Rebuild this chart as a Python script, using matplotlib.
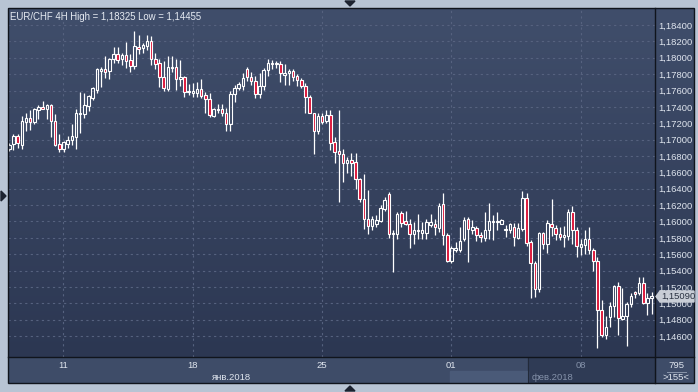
import matplotlib
matplotlib.use('Agg')
import matplotlib.pyplot as plt
import numpy as np
from matplotlib.patches import Rectangle, Polygon
from matplotlib.colors import LinearSegmentedColormap
from matplotlib.ticker import FuncFormatter

# EUR/CHF 4H candles
opens = [1.1688, 1.1695, 1.1704, 1.1694, 1.1721, 1.1727, 1.1721, 1.1736, 1.1740, 1.1737,
         1.1742, 1.1723, 1.1695, 1.1689, 1.1695, 1.1699, 1.1703, 1.1731, 1.1731, 1.1741,
         1.1751, 1.1761, 1.1784, 1.1786, 1.1784, 1.1799, 1.1804, 1.1798, 1.1803, 1.1797,
         1.1790, 1.1813, 1.1812, 1.1814, 1.1820, 1.1798, 1.1793, 1.1777, 1.1762, 1.1787,
         1.1789, 1.1774, 1.1776, 1.1758, 1.1757, 1.1757, 1.1762, 1.1754, 1.1750, 1.1729,
         1.1736, 1.1737, 1.1733, 1.1719, 1.1756, 1.1763, 1.1765, 1.1786, 1.1777, 1.1771,
         1.1756, 1.1766, 1.1785, 1.1794, 1.1792, 1.1792, 1.1779, 1.1781, 1.1784, 1.1778,
         1.1773, 1.1766, 1.1752, 1.1733, 1.1710, 1.1729, 1.1723, 1.1730, 1.1697, 1.1686,
         1.1683, 1.1671, 1.1675, 1.1673, 1.1652, 1.1628, 1.1603, 1.1595, 1.1597, 1.1601,
         1.1615, 1.1634, 1.1585, 1.1585, 1.1610, 1.1600, 1.1597, 1.1585, 1.1588, 1.1586,
         1.1586, 1.1596, 1.1597, 1.1592, 1.1621, 1.1583, 1.1552, 1.1565, 1.1565, 1.1578,
         1.1603, 1.1590, 1.1592, 1.1583, 1.1580, 1.1589, 1.1599, 1.1599, 1.1597, 1.1590,
         1.1590, 1.1593, 1.1580, 1.1591, 1.1629, 1.1575, 1.1549, 1.1518, 1.1586, 1.1572,
         1.1597, 1.1592, 1.1585, 1.1581, 1.1582, 1.1611, 1.1589, 1.1569, 1.1571, 1.1578,
         1.1565, 1.1552, 1.1492, 1.1461, 1.1483, 1.1497, 1.1521, 1.1481, 1.1484, 1.1499,
         1.1514, 1.1512, 1.1525, 1.1500, 1.1507]
highs = [1.1696, 1.1707, 1.1707, 1.1729, 1.1733, 1.1736, 1.1739, 1.1742, 1.1747, 1.1744,
         1.1744, 1.1731, 1.1707, 1.1698, 1.1704, 1.1719, 1.1737, 1.1758, 1.1757, 1.1755,
         1.1764, 1.1787, 1.1789, 1.1802, 1.1800, 1.1813, 1.1813, 1.1806, 1.1819, 1.1804,
         1.18325, 1.1828, 1.1818, 1.1828, 1.1827, 1.1806, 1.1799, 1.1796, 1.1802, 1.1802,
         1.1799, 1.1797, 1.1778, 1.1768, 1.1769, 1.1770, 1.1774, 1.1758, 1.1757, 1.1739,
         1.1743, 1.1743, 1.1739, 1.1759, 1.1767, 1.1770, 1.1781, 1.1789, 1.1782, 1.1778,
         1.1781, 1.1788, 1.1798, 1.1797, 1.1796, 1.1796, 1.1792, 1.1786, 1.1786, 1.1780,
         1.1775, 1.1769, 1.1754, 1.1733, 1.1732, 1.1733, 1.1736, 1.1736, 1.1703, 1.1736,
         1.1689, 1.1679, 1.1684, 1.1684, 1.1653, 1.1658, 1.1638, 1.1607, 1.1608, 1.1620,
         1.1630, 1.1636, 1.1590, 1.1612, 1.1613, 1.1613, 1.1603, 1.1599, 1.1609, 1.1599,
         1.1603, 1.1609, 1.1603, 1.1623, 1.1635, 1.1586, 1.1570, 1.1575, 1.1593, 1.1606,
         1.1606, 1.1602, 1.1594, 1.1587, 1.1611, 1.1622, 1.1608, 1.1612, 1.1603, 1.1596,
         1.1598, 1.1598, 1.1598, 1.1637, 1.1635, 1.1577, 1.1552, 1.1587, 1.1587, 1.1602,
         1.1627, 1.1596, 1.1593, 1.1595, 1.1615, 1.1619, 1.1593, 1.1579, 1.1590, 1.1593,
         1.1568, 1.1557, 1.1504, 1.1484, 1.1501, 1.1522, 1.1526, 1.1519, 1.1501, 1.1512,
         1.1515, 1.1532, 1.1532, 1.1512, 1.1514]
lows = [1.1686, 1.1687, 1.1690, 1.1688, 1.1710, 1.1712, 1.1719, 1.1725, 1.1737, 1.1725,
        1.1703, 1.1692, 1.1685, 1.1685, 1.1690, 1.1694, 1.1688, 1.1708, 1.1727, 1.1735,
        1.1749, 1.1757, 1.1764, 1.1775, 1.1774, 1.1794, 1.1794, 1.1791, 1.1788, 1.1783,
        1.1786, 1.1804, 1.1806, 1.1810, 1.1791, 1.1786, 1.1764, 1.1760, 1.1760, 1.1782,
        1.1761, 1.1766, 1.1752, 1.1754, 1.1752, 1.1752, 1.1751, 1.1732, 1.1728, 1.1728,
        1.1733, 1.1729, 1.1711, 1.1710, 1.1746, 1.1761, 1.1761, 1.1771, 1.1767, 1.1751,
        1.1751, 1.1761, 1.1778, 1.1786, 1.1788, 1.1770, 1.1767, 1.1767, 1.1771, 1.1766,
        1.1763, 1.1733, 1.1732, 1.1683, 1.1707, 1.1719, 1.1720, 1.1687, 1.1672, 1.1624,
        1.1648, 1.1659, 1.1656, 1.1640, 1.1624, 1.1591, 1.1585, 1.1589, 1.1593, 1.1599,
        1.1613, 1.1580, 1.1538, 1.1579, 1.1593, 1.1596, 1.1567, 1.1573, 1.1579, 1.1579,
        1.1579, 1.1593, 1.1583, 1.1587, 1.1571, 1.1551, 1.1549, 1.1563, 1.1563, 1.1576,
        1.1550, 1.1585, 1.1576, 1.1575, 1.1576, 1.1579, 1.1577, 1.1589, 1.1597, 1.1581,
        1.1586, 1.1570, 1.1578, 1.1588, 1.1570, 1.1506, 1.1508, 1.1514, 1.1566, 1.1561,
        1.1582, 1.1577, 1.1577, 1.1569, 1.1577, 1.1573, 1.1557, 1.1559, 1.1560, 1.1560,
        1.1540, 1.14455, 1.1459, 1.1456, 1.1471, 1.1483, 1.1461, 1.1480, 1.1448, 1.1496,
        1.1506, 1.1510, 1.1499, 1.1486, 1.1487]
closes = [1.1693, 1.1705, 1.1696, 1.1723, 1.1727, 1.1721, 1.1737, 1.1740, 1.1738, 1.1742,
          1.1723, 1.1694, 1.1689, 1.1697, 1.1700, 1.1704, 1.1733, 1.1733, 1.1742, 1.1753,
          1.1763, 1.1786, 1.1786, 1.1782, 1.1799, 1.1804, 1.1797, 1.1803, 1.1796, 1.1790,
          1.1814, 1.1811, 1.1815, 1.1820, 1.1799, 1.1792, 1.1777, 1.1763, 1.1789, 1.1789,
          1.1774, 1.1776, 1.1758, 1.1760, 1.1759, 1.1762, 1.1753, 1.1750, 1.1730, 1.1737,
          1.1737, 1.1732, 1.1719, 1.1756, 1.1763, 1.1768, 1.1775, 1.1777, 1.1771, 1.1756,
          1.1766, 1.1785, 1.1794, 1.1792, 1.1793, 1.1781, 1.1781, 1.1784, 1.1777, 1.1773,
          1.1766, 1.1752, 1.1733, 1.1710, 1.1729, 1.1722, 1.1730, 1.1696, 1.1685, 1.1683,
          1.1671, 1.1675, 1.1671, 1.1652, 1.1628, 1.1603, 1.1595, 1.1603, 1.1602, 1.1617,
          1.1626, 1.1585, 1.1586, 1.1609, 1.1598, 1.1597, 1.1585, 1.1589, 1.1589, 1.1589,
          1.1599, 1.1599, 1.1593, 1.1619, 1.1583, 1.1552, 1.1567, 1.1567, 1.1576, 1.1602,
          1.1591, 1.1593, 1.1583, 1.1581, 1.1590, 1.1600, 1.1601, 1.1601, 1.1602, 1.1591,
          1.1597, 1.1581, 1.1592, 1.1629, 1.1574, 1.1549, 1.1518, 1.1586, 1.1572, 1.1598,
          1.1593, 1.1585, 1.1581, 1.1584, 1.1612, 1.1589, 1.1570, 1.1572, 1.1579, 1.1565,
          1.1552, 1.1492, 1.1461, 1.1471, 1.1497, 1.1521, 1.1482, 1.1484, 1.1499, 1.1509,
          1.1511, 1.1525, 1.1500, 1.1506, 1.1509]

y_ticks = [1.146, 1.148, 1.150, 1.152, 1.154, 1.156, 1.158, 1.160, 1.162, 1.164,
           1.166, 1.168, 1.170, 1.172, 1.174, 1.176, 1.178, 1.180, 1.182, 1.184]
day_labels = ['11', '18', '25', '01', '08']
day_pos = [12.9, 44.0, 75.0, 105.8, 137.1]   # candle index where the day starts
month_labels = ['янв.2018', 'фев.2018']
last_price = '1,15090'
title = 'EUR/CHF 4H High = 1,18325 Low = 1,14455'

W, H = 698, 392
plt.rcParams['font.family'] = ['Liberation Sans', 'DejaVu Sans']

fig = plt.figure(figsize=(W / 100, H / 100), dpi=100, facecolor='#b8c4d4')

def box(x0, y0, x1, y1):
    return [x0 / W, 1 - y1 / H, (x1 - x0) / W, (y1 - y0) / H]

# gradient behind plot and price scale
bg = fig.add_axes(box(8, 8, 694, 357), zorder=0)
grad = np.linspace(0, 1, 256).reshape(-1, 1)
cmap = LinearSegmentedColormap.from_list('bg', ['#2c3752', '#404e6b'])
bg.imshow(grad, aspect='auto', cmap=cmap, origin='lower', extent=[0, 1, 0, 1])
bg.set_axis_off()

# time scale strip
strip = fig.add_axes(box(8, 357, 694, 383), zorder=1)
strip.set_xlim(8, 694)
strip.set_ylim(383, 357)
strip.axis('off')
strip.add_patch(Rectangle((8, 357), 686, 26, color='#3e4c68'))
strip.add_patch(Rectangle((528, 357), 127, 26, color='#2f3b55'))
strip.add_patch(Rectangle((450, 371), 78, 12, color='#4a5a78'))
strip.plot([528, 528], [357, 383], color='#222a3a', lw=0.8)

ax = fig.add_axes(box(8, 8, 655, 357), zorder=2)
ax.patch.set_alpha(0)

o = np.array(opens); h = np.array(highs); l = np.array(lows); c = np.array(closes)
x = np.arange(len(o))
top = np.maximum(o, c)
bot = np.minimum(o, c)
ax.vlines(x, top, h, color='white', lw=0.9, zorder=3)
ax.vlines(x, l, bot, color='white', lw=0.9, zorder=3)
cols = np.where(c < o, '#dc1438', 'none')
ax.bar(x, np.maximum(top - bot, 0.00004), bottom=bot, width=0.6,
       color=cols, edgecolor='white', lw=0.8, zorder=4)

ax.set_xlim(-0.31, 154.8)
ax.set_ylim(1.14344, 1.18608)
ax.set_yticks(y_ticks)
ax.yaxis.tick_right()
ax.yaxis.set_major_formatter(FuncFormatter(lambda v, p: f'{v:.5f}'.replace('.', ',')))
ax.set_xticks(day_pos)
ax.set_xticklabels(day_labels)
ax.tick_params(length=0, labelsize=6.8, colors='#dfe5ee')
ax.tick_params(axis='y', pad=2.5)
ax.tick_params(axis='x', pad=3)
ax.get_xticklabels()[-1].set_color('#8592aa')
ax.grid(True, color='#56627f', linestyle=(0, (2, 3)), lw=0.8)
ax.set_axisbelow(True)
for s in ax.spines.values():
    s.set_visible(False)
ax.text(0.003, 0.988, title, transform=ax.transAxes, ha='left', va='top',
        fontsize=6.9, color='#e6ebf2')

# overlay for frame pieces, in pixel coords
ov = fig.add_axes([0, 0, 1, 1], zorder=5)
ov.set_xlim(0, W)
ov.set_ylim(H, 0)
ov.axis('off')
ov.patch.set_alpha(0)

ov.text(232, 377, month_labels[0], ha='center', va='center', fontsize=6.8, color='#dfe5ee')
ov.text(553, 377, month_labels[1], ha='center', va='center', fontsize=6.8, color='#8592aa')
ov.text(676, 365, '795', ha='center', va='center', fontsize=6.8, color='#dfe5ee')
ov.text(676, 378, '>155<', ha='center', va='center', fontsize=6.8, color='#dfe5ee')
ov.plot([667, 686], [371.5, 371.5], color='#8a96ab', lw=0.7)

# panel borders
ov.add_patch(Rectangle((8, 8), 686, 375, fill=False, ec='#10141c', lw=1))
ov.plot([8, 694], [357, 357], color='#10141c', lw=1)
ov.plot([655, 655], [8, 383], color='#10141c', lw=1)

# last price tag
ov.add_patch(Polygon([(656, 296.5), (660, 291), (694, 291), (694, 302), (660, 302)],
                     closed=True, color='#c8cdd6', zorder=6))
ov.text(661, 296.8, last_price, ha='left', va='center', fontsize=6.8, color='#2a3242', zorder=7)

# small arrows in the outer frame
ov.add_patch(Polygon([(345, 1), (355, 1), (350, 6)], color='#1c2230'))
ov.add_patch(Polygon([(1, 191), (1, 201), (6, 196)], color='#1c2230'))
ov.add_patch(Polygon([(345, 391), (355, 391), (350, 386)], color='#1c2230'))

fig.savefig('out.png', dpi=100, facecolor=fig.get_facecolor())
